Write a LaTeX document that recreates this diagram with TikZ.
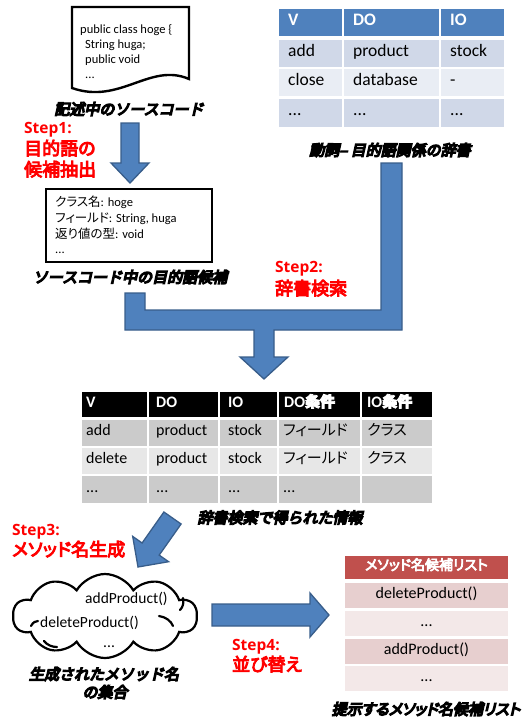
\documentclass[tikz,border=0pt]{standalone}
\usepackage{fontspec}
\setmainfont{Carlito}
\newfontfamily\stepfont{Open Sans}
\newfontfamily\jp[RawFeature=+palt]{Noto Sans CJK JP}
\newfontfamily\jpb[RawFeature=+palt,FakeBold=5]{Noto Sans CJK JP}
\newfontfamily\jpbi[FakeBold=9,FakeSlant=0.22]{Noto Sans CJK JP}
\newfontfamily\jpbip[RawFeature=+palt,FakeBold=9,FakeSlant=0.22]{Noto Sans CJK JP}
\usetikzlibrary{shapes.symbols}
\definecolor{arrowblue}{HTML}{4F81BD}
\definecolor{arrowedge}{HTML}{385D8A}
\definecolor{dhead}{HTML}{4F81BD}
\definecolor{dbandA}{HTML}{D0D8E8}
\definecolor{dbandB}{HTML}{E9EDF4}
\definecolor{gbandA}{HTML}{CBCBCB}
\definecolor{gbandB}{HTML}{E7E7E7}
\definecolor{rhead}{HTML}{C0504D}
\definecolor{rbandA}{HTML}{E7CFCF}
\definecolor{rbandB}{HTML}{F3E8E8}
\definecolor{stepred}{HTML}{FF0000}
\newcommand\mycell[5]{\fill[#5] (#1,#2) rectangle (#3,#4);}
\begin{document}
\begin{tikzpicture}[x=1pt,y=-1pt,
  blockarrow/.style={fill=arrowblue,draw=arrowedge,line width=1.3pt,line join=miter},
  boxline/.style={draw=black,line width=2.4pt,fill=white},
  codetext/.style={anchor=base west,inner sep=0,font=\fontsize{12.5}{14}\selectfont},
  caption/.style={inner sep=0,font=\jpbi\fontsize{15}{17}\selectfont},
  steplatin/.style={anchor=base west,inner sep=0,text=stepred,font=\stepfont\bfseries\fontsize{15.5}{18}\selectfont},
  stepjp/.style={anchor=base west,inner sep=0,text=stepred,font=\jpb\fontsize{18}{20}\selectfont},
  dtext/.style={anchor=west,inner sep=0,text height=0.7em,text depth=0.2em,font=\fontsize{17.5}{20}\selectfont},
  dhtext/.style={dtext,text=white,font=\bfseries\fontsize{17.5}{20}\selectfont},
  gtext/.style={anchor=west,inner sep=0,text height=0.7em,text depth=0.2em,font=\fontsize{16}{18}\selectfont},
  ghtext/.style={gtext,text=white,font=\bfseries\fontsize{16}{18}\selectfont},
  ltext/.style={inner sep=0,text height=0.7em,text depth=0.2em,font=\fontsize{16}{18}\selectfont},
  cloudtext/.style={anchor=base west,inner sep=0,font=\fontsize{15.5}{18}\selectfont},
  curl/.style={draw=black,line width=2.2pt,line cap=round}
]
\useasboundingbox (0,0) rectangle (532,720);

% ---------- source code document ----------
\draw[boxline,line join=miter] (72,7) -- (189,7) -- (189,79)
  .. controls (150,62) and (120,105) .. (72,88) -- cycle;
\node[codetext] (c1) at (80,33) {public class hoge \{};
\node[codetext] (c2) at (85,48) {String huga;};
\node[codetext] (c3) at (85,63) {public void};
\node[codetext] (c4) at (85,78) {...};
\node[caption] (cap1) at (129,109) {記述中のソースコード};

% ---------- step 1 ----------
\node[steplatin] (s1a) at (24,133) {Step1:};
\node[stepjp] (s1b) at (24,155) {目的語の};
\node[stepjp] (s1c) at (24,176) {候補抽出};
\draw[blockarrow] (121,123) -- (139,123) -- (139,163) -- (149,163) -- (130,183)
  -- (111,163) -- (121,163) -- cycle;

% ---------- candidate box ----------
\draw[boxline] (46,189) rectangle (212,262);
\node[codetext] (k1) at (55,206) {{\jp クラス名}: hoge};
\node[codetext] (k2) at (55,222) {{\jp フィールド}: String, huga};
\node[codetext] (k3) at (55,238) {{\jp 返り値の型}: void};
\node[codetext] (k4) at (55,253) {...};
\node[caption] (cap2) at (130,277) {ソースコード中の目的語候補};

% ---------- dictionary table ----------
\mycell{279}{9}{342}{36}{dhead}\mycell{344}{9}{439}{36}{dhead}\mycell{441}{9}{504}{36}{dhead}
\mycell{279}{40}{342}{67}{dbandA}\mycell{344}{40}{439}{67}{dbandA}\mycell{441}{40}{504}{67}{dbandA}
\mycell{279}{69}{342}{96}{dbandB}\mycell{344}{69}{439}{96}{dbandB}\mycell{441}{69}{504}{96}{dbandB}
\mycell{279}{99}{342}{127}{dbandA}\mycell{344}{99}{439}{127}{dbandA}\mycell{441}{99}{504}{127}{dbandA}
\node[dhtext] (dh1) at (288,22.5) {V};
\node[dhtext] (dh2) at (353,22.5) {DO};
\node[dhtext] (dh3) at (450,22.5) {IO};
\node[dtext] (d11) at (288,53.5) {add};
\node[dtext] (d12) at (353,53.5) {product};
\node[dtext] (d13) at (450,53.5) {stock};
\node[dtext] (d21) at (288,82.5) {close};
\node[dtext] (d22) at (353,82.5) {database};
\node[dtext] (d23) at (450,82.5) {-};
\node[dtext] (d31) at (288,113) {...};
\node[dtext] (d32) at (353,113) {...};
\node[dtext] (d33) at (450,113) {...};
\node[caption] (cap3) at (390,150) {動詞– 目的語関係の辞書};

% ---------- step 2 merging arrow ----------
\draw[blockarrow] (125,293) -- (145,293) -- (145,310) -- (381,310) -- (381,163)
  -- (402,163) -- (402,330) -- (274,330) -- (274,357) -- (288,357) -- (264,379)
  -- (240,357) -- (254,357) -- (254,330) -- (125,330) -- cycle;
\node[steplatin] (s2a) at (275,272) {Step2:};
\node[stepjp] (s2b) at (275,295) {辞書検索};

% ---------- result table ----------
\foreach \xa/\xb in {82/147,149/218,220/277,279/360,362/432}{
  \mycell{\xa}{392}{\xb}{417}{black}
  \mycell{\xa}{420}{\xb}{446}{gbandA}
  \mycell{\xa}{448}{\xb}{474}{gbandB}
  \mycell{\xa}{476}{\xb}{503}{gbandA}
}
\node[ghtext] (gh1) at (86,404.5) {V};
\node[ghtext] (gh2) at (156,404.5) {DO};
\node[ghtext] (gh3) at (228,404.5) {IO};
\node[ghtext] (gh4) at (284,404.5) {DO{\jpb\fontsize{15}{18}\selectfont 条件}};
\node[ghtext] (gh5) at (367,404.5) {IO{\jpb\fontsize{15}{18}\selectfont 条件}};
\node[gtext] (g11) at (86,433) {add};
\node[gtext] (g12) at (156,433) {product};
\node[gtext] (g13) at (228,433) {stock};
\node[gtext,font=\jp\fontsize{15}{18}\selectfont] (g14) at (283,433) {フィールド};
\node[gtext,font=\jp\fontsize{15}{18}\selectfont] (g15) at (367,433) {クラス};
\node[gtext] (g21) at (86,461) {delete};
\node[gtext] (g22) at (156,461) {product};
\node[gtext] (g23) at (228,461) {stock};
\node[gtext,font=\jp\fontsize{15}{18}\selectfont] (g24) at (283,461) {フィールド};
\node[gtext,font=\jp\fontsize{15}{18}\selectfont] (g25) at (367,461) {クラス};
\node[gtext] (g31) at (86,489.5) {...};
\node[gtext] (g32) at (156,489.5) {...};
\node[gtext] (g33) at (228,489.5) {...};
\node[gtext] (g34) at (283,489.5) {...};
\node[caption] (cap4) at (280,517.5) {辞書検索で得られた情報};

% ---------- step 3 ----------
\draw[blockarrow] (163.9,512.0) -- (181.1,524.0) -- (159.2,555.1) -- (168.6,561.7)
  -- (138,567) -- (132.7,536.4) -- (142.1,543.0) -- cycle;
\node[steplatin] (s3a) at (12,535) {Step3:};
\node[stepjp] (s3b) at (12,556) {メソッド名生成};

\node[cloud,draw,line width=2.2pt,cloud puffs=10,cloud puff arc=120,
  cloud ignores aspect,minimum width=184,minimum height=84,inner sep=0] (cloud) at (105,616) {};
\draw[curl] (31,626) .. controls (33,622) and (36,621) .. (38,621);
\draw[curl] (159,616) .. controls (166,617) and (171,621) .. (173,626);
\draw[curl] (183,598) .. controls (184,603) and (183,607) .. (180,610);
\draw[curl] (44,641) .. controls (47,645) and (52,647) .. (57,647);
\node[cloudtext] (m1) at (85,603) {addProduct()};
\node[cloudtext] (m2) at (40,627) {deleteProduct()};
\node[cloudtext] (m3) at (103,647) {...};
\node[caption] (cap5) at (104,674) {生成されたメソッド名};
\node[caption] (cap6) at (105,692) {の集合};

% ---------- step 4 ----------
\draw[blockarrow] (212,604) -- (310,604) -- (310,593) -- (329,615) -- (310,637)
  -- (310,626) -- (212,626) -- cycle;
\node[steplatin] (s4a) at (232,650) {Step4:};
\node[stepjp] (s4b) at (232,671) {並び替え};

% ---------- candidate list ----------
\mycell{345}{556}{508}{579}{rhead}
\mycell{345}{583}{508}{608}{rbandA}
\mycell{345}{611}{508}{636}{rbandB}
\mycell{345}{639}{508}{664}{rbandA}
\mycell{345}{666}{508}{691}{rbandB}
\node[ltext,text=white,font=\jpb\fontsize{14}{16}\selectfont] (lh) at (426.5,567.5) {メソッド名候補リスト};
\node[ltext] (l1) at (426.5,595.5) {deleteProduct()};
\node[ltext] (l2) at (426.5,623.5) {...};
\node[ltext] (l3) at (426.5,651.5) {addProduct()};
\node[ltext] (l4) at (426.5,678.5) {...};
\node[caption,font=\jpbip\fontsize{15}{17}\selectfont] (cap7) at (426,709) {提示するメソッド名候補リスト};
\end{tikzpicture}
\end{document}
